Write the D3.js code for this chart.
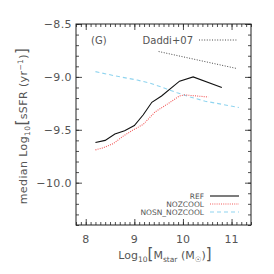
<!DOCTYPE html>
<html lang="en">
<head>
<meta charset="UTF-8">
<title>median sSFR vs stellar mass</title>
<script src="https://d3js.org/d3.v7.min.js"></script>
<style>
    body { margin: 0; background: #fff; }
    text { font-family: "DejaVu Sans", sans-serif; fill: #555; }
    .tick-label { font-size: 11px; }
    .axis-title { font-size: 11px; }
    .legend { font-size: 7.5px; }
</style>
</head>
<body>
<div id="chart"></div>
<script>
// series (log10 Mstar, median log10 sSFR)
const refMass = [8.2, 8.4, 8.6, 8.8, 9.0, 9.18, 9.36, 9.56, 9.93, 10.21, 10.8];
const refSsfr = [-9.62, -9.60, -9.54, -9.51, -9.46, -9.36, -9.24, -9.18, -9.04, -9.0, -9.10];

const nozMass = [8.2, 8.36, 8.57, 8.77, 8.98, 9.18, 9.43, 9.67, 9.93, 10.03, 10.52];
const nozSsfr = [-9.69, -9.67, -9.63, -9.56, -9.50, -9.45, -9.33, -9.26, -9.18, -9.17, -9.19];

const nosnMass = [8.2, 8.6, 9.06, 9.33, 9.64, 9.88, 10.15, 10.46, 10.7, 11.15];
const nosnSsfr = [-8.95, -8.99, -9.03, -9.06, -9.11, -9.15, -9.19, -9.23, -9.25, -9.29];

const daddiMass = [9.5, 11.1];
const daddiSsfr = [-8.76, -8.92];

const xTicks = [8, 9, 10, 11];
const yTicks = [-10.0, -9.5, -9.0, -8.5];

const legendNames = ["REF", "NOZCOOL", "NOSN_NOZCOOL"];

const W = 274, H = 274;
const m = {left: 76, right: 251, top: 24, bottom: 225};

const svg = d3.select("#chart").append("svg")
    .attr("width", W).attr("height", H);

const x = d3.scaleLinear().domain([7.8, 11.4]).range([m.left, m.right]);
const y = d3.scaleLinear().domain([-10.4, -8.5]).range([m.bottom, m.top]);

const xMinor = d3.range(7.8, 11.41, 0.1).map(v => +v.toFixed(1));
const yMinor = d3.range(-10.4, -8.49, 0.1).map(v => +v.toFixed(1));

function drawAxis(axisFn, scale, vals, size, tr) {
    const g = svg.append("g").attr("transform", tr)
        .call(axisFn(scale).tickValues(vals).tickSizeInner(size).tickSizeOuter(0).tickFormat(""));
    g.select(".domain").remove();
    g.selectAll("line").attr("stroke", "#222").attr("stroke-width", 0.8);
    return g;
}

// ticks on all four sides, pointing inward
drawAxis(d3.axisBottom, x, xMinor, -3, `translate(0,${m.bottom})`);
drawAxis(d3.axisBottom, x, xTicks, -6, `translate(0,${m.bottom})`);
drawAxis(d3.axisTop, x, xMinor, -3, `translate(0,${m.top})`);
drawAxis(d3.axisTop, x, xTicks, -6, `translate(0,${m.top})`);
drawAxis(d3.axisLeft, y, yMinor, -3, `translate(${m.left},0)`);
drawAxis(d3.axisLeft, y, yTicks, -6, `translate(${m.left},0)`);
drawAxis(d3.axisRight, y, yMinor, -3, `translate(${m.right},0)`);
drawAxis(d3.axisRight, y, yTicks, -6, `translate(${m.right},0)`);

svg.append("rect")
    .attr("x", m.left).attr("y", m.top)
    .attr("width", m.right - m.left).attr("height", m.bottom - m.top)
    .attr("fill", "none").attr("stroke", "#222").attr("stroke-width", 1);

// tick labels
svg.selectAll(".xl").data(xTicks).enter().append("text")
    .attr("class", "tick-label")
    .attr("x", d => x(d)).attr("y", m.bottom + 18)
    .attr("text-anchor", "middle")
    .text(d => d);

svg.selectAll(".yl").data(yTicks).enter().append("text")
    .attr("class", "tick-label")
    .attr("x", m.left - 4).attr("y", d => y(d) + 4)
    .attr("text-anchor", "end")
    .style("letter-spacing", "0.4px")
    .text(d => "\u2212" + Math.abs(d).toFixed(1));

// x title
const xt = svg.append("text").attr("class", "axis-title")
    .attr("x", 165).attr("y", 259).attr("text-anchor", "middle");
xt.append("tspan").text("Log");
xt.append("tspan").attr("dy", 3).style("font-size", "7.5px").text("10");
xt.append("tspan").attr("dy", -3).style("font-size", "15px").text("[");
xt.append("tspan").text("M");
xt.append("tspan").attr("dy", 3).style("font-size", "7.5px").text("star");
xt.append("tspan").attr("dy", -3).text(" (M");
xt.append("tspan").attr("dy", 3).style("font-size", "7.5px").text("\u2609");
xt.append("tspan").attr("dy", -3).text(")");
xt.append("tspan").style("font-size", "15px").text("]");

// y title
const yt = svg.append("text").attr("class", "axis-title")
    .attr("transform", "translate(27,126) rotate(-90)")
    .attr("text-anchor", "middle")
    .style("letter-spacing", "0.4px");
yt.append("tspan").text("median Log");
yt.append("tspan").attr("dy", 3).style("font-size", "7.5px").text("10");
yt.append("tspan").attr("dy", -3).style("font-size", "15px").text("[");
yt.append("tspan").text("sSFR (yr");
yt.append("tspan").attr("dy", -4).style("font-size", "7.5px").text("\u22121");
yt.append("tspan").attr("dy", 4).text(")");
yt.append("tspan").style("font-size", "15px").text("]");

// panel tag
svg.append("text").attr("x", 91).attr("y", 44)
    .style("font-size", "10px").text("(G)");

// lines
const line = d3.line().x(d => x(d[0])).y(d => y(d[1]));
const series = [
    {m: daddiMass, s: daddiSsfr, color: "#333", dash: "1,1.6", w: 0.9},
    {m: nosnMass, s: nosnSsfr, color: "#8fd4ef", dash: "4,3", w: 1.1},
    {m: nozMass, s: nozSsfr, color: "#f25a5a", dash: "1,1.2", w: 1.1},
    {m: refMass, s: refSsfr, color: "#111", dash: null, w: 1.1}
];
series.forEach(sr => {
    svg.append("path")
        .datum(d3.zip(sr.m, sr.s))
        .attr("d", line)
        .attr("fill", "none")
        .attr("stroke", sr.color)
        .attr("stroke-width", sr.w)
        .attr("stroke-dasharray", sr.dash);
});

// Daddi legend
svg.append("text").attr("x", 193).attr("y", 44)
    .attr("text-anchor", "end").style("font-size", "10px").text("Daddi+07");
svg.append("line").attr("x1", 199).attr("x2", 237).attr("y1", 40).attr("y2", 40)
    .attr("stroke", "#333").attr("stroke-width", 0.9).attr("stroke-dasharray", "1,1.6");

// bottom legend
const legStyles = [series[3], series[2], series[1]];
legendNames.forEach((name, i) => {
    const ly = 196 + i * 8;
    svg.append("text").attr("class", "legend")
        .attr("x", 204).attr("y", ly + 2.7)
        .attr("text-anchor", "end").text(name);
    svg.append("line").attr("x1", 210).attr("x2", 239).attr("y1", ly).attr("y2", ly)
        .attr("stroke", legStyles[i].color).attr("stroke-width", legStyles[i].w)
        .attr("stroke-dasharray", legStyles[i].dash);
});
</script>
</body>
</html>
